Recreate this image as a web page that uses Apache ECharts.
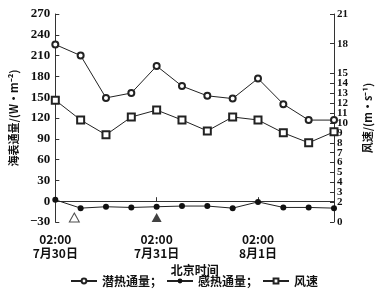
<!DOCTYPE html>
<html>
<head>
<meta charset="utf-8">
<script src="https://cdn.jsdelivr.net/npm/echarts@6/dist/echarts.min.js"></script>
<style>html,body{margin:0;padding:0;background:#fff}#c{width:388px;height:296px}</style>
</head>
<body>
<div id="c"></div>
<script>
// hours since 7/30 02:00 (every 6 h)
var hours = [0, 6, 12, 18, 24, 30, 36, 42, 48, 54, 60, 66];
var latentHeat = [226, 210, 149, 156, 195, 166, 152, 148, 177, 140, 117, 117];
var sensibleHeat = [2, -10, -8, -9, -8, -7, -7, -10, -1, -9, -9, -10];
var windSpeed = [12.3, 10.3, 8.8, 10.6, 11.3, 10.3, 9.2, 10.6, 10.3, 9.0, 8.0, 9.1];
var xTickHours = [0, 24, 48];
var xTickLabels = ['02:00\n7月30日', '02:00\n7月31日', '02:00\n8月1日'];
var rightTicks = [0, 1, 2, 3, 4, 5, 6, 7, 8, 9, 10, 11, 12, 13, 14, 15, 18, 21];
var openTriangleHour = [4.5];
var filledTriangleHour = [24];
var names = ['潜热通量；', '感热通量；', '风速'];

function pairs(xs, ys) { return xs.map(function (x, i) { return [x, ys[i]]; }); }

var numFont = '"Liberation Serif","DejaVu Serif",serif';
var cjkFont = '"Noto Sans CJK SC","Liberation Serif",sans-serif';
var chart = echarts.init(document.getElementById('c'), null, {renderer: 'canvas'});
chart.setOption({
  backgroundColor: '#fff',
  animation: false,
  grid: {left: 52, right: 54, top: 14, bottom: 74, containLabel: false},
  legend: {
    bottom: 4, left: 'center',
    data: names,
    itemWidth: 26, itemHeight: 6, itemGap: 4,
    textStyle: {fontFamily: cjkFont, fontWeight: 'bold', fontSize: 12, color: '#111'}
  },
  xAxis: {
    type: 'value', min: 0, max: 66,
    name: '北京时间', nameLocation: 'middle', nameGap: 36,
    nameTextStyle: {fontFamily: cjkFont, fontWeight: 'bold', fontSize: 12, color: '#111'},
    axisLine: {show: true, lineStyle: {color: '#333', width: 1}},
    axisTick: {show: true, inside: true, length: 4, customValues: xTickHours, lineStyle: {color: '#333'}},
    axisLabel: {
      customValues: xTickHours, margin: 10, lineHeight: 14,
      fontFamily: '"Noto Sans CJK SC","Liberation Serif",serif', fontWeight: 'bold', fontSize: 12, color: '#111',
      formatter: function (v) { var i = xTickHours.indexOf(v); return i >= 0 ? xTickLabels[i] : ''; }
    },
    splitLine: {show: false}
  },
  yAxis: [{
    type: 'value', min: -30, max: 270, interval: 30, position: 'left',
    name: '海表通量/(W·m⁻²)', nameLocation: 'middle', nameGap: 36, nameRotate: 90,
    nameTextStyle: {fontFamily: cjkFont, fontWeight: 'bold', fontSize: 11, color: '#111'},
    axisLine: {show: true, lineStyle: {color: '#333', width: 1}},
    axisTick: {show: true, inside: true, length: 4, lineStyle: {color: '#333'}},
    axisLabel: {
      margin: 5, fontFamily: numFont, fontWeight: 'bold', fontSize: 13, color: '#111',
      formatter: function (v) { return String(v).replace('-', '−'); }
    },
    splitLine: {show: false}
  }, {
    type: 'value', min: 0, max: 21, interval: 1, position: 'right',
    name: '风速/(m·s⁻¹)', nameLocation: 'middle', nameGap: 28, nameRotate: 90,
    nameTextStyle: {fontFamily: cjkFont, fontWeight: 'bold', fontSize: 11, color: '#111'},
    axisLine: {show: true, lineStyle: {color: '#333', width: 1}},
    axisTick: {show: true, inside: true, length: 4, customValues: rightTicks, lineStyle: {color: '#333'}},
    axisLabel: {
      customValues: rightTicks, margin: 3, showMinLabel: true, showMaxLabel: true, hideOverlap: false,
      fontFamily: numFont, fontWeight: 'bold', fontSize: 11, lineHeight: 10, color: '#111'
    },
    splitLine: {show: false}
  }],
  series: [{
    name: names[0], type: 'line', yAxisIndex: 0, data: pairs(hours, latentHeat),
    symbol: 'emptyCircle', symbolSize: 6,
    lineStyle: {color: '#222', width: 1}, itemStyle: {color: '#222', borderColor: '#222', borderWidth: 1}
  }, {
    name: names[1], type: 'line', yAxisIndex: 0, data: pairs(hours, sensibleHeat),
    symbol: 'circle', symbolSize: 6,
    lineStyle: {color: '#222', width: 1}, itemStyle: {color: '#111'}
  }, {
    name: names[2], type: 'line', yAxisIndex: 1, data: pairs(hours, windSpeed),
    symbol: 'emptyRect', symbolSize: 7,
    lineStyle: {color: '#222', width: 1}, itemStyle: {color: '#222', borderColor: '#222', borderWidth: 1}
  }, {
    name: 'openTri', type: 'scatter', yAxisIndex: 0,
    data: openTriangleHour.map(function (h) { return [h, -30]; }),
    symbol: 'triangle', symbolSize: [10, 9], symbolOffset: [0, -4.5],
    itemStyle: {color: '#fff', borderColor: '#222', borderWidth: 1}, z: 5
  }, {
    name: 'filledTri', type: 'scatter', yAxisIndex: 0,
    data: filledTriangleHour.map(function (h) { return [h, -30]; }),
    symbol: 'triangle', symbolSize: [10, 9], symbolOffset: [0, -4.5],
    itemStyle: {color: '#111'}, z: 5
  }]
});
</script>
</body>
</html>
